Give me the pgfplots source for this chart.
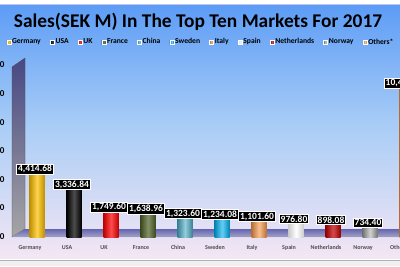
\documentclass[border=0pt]{standalone}
\usepackage{pgfplots}
\pgfplotsset{compat=1.18}
\usepackage{fontspec}
\setmainfont{Carlito}
\definecolor{cGer}{HTML}{FFC000}
\definecolor{cUSA}{HTML}{0A0A0A}
\definecolor{cUK}{HTML}{FF0000}
\definecolor{cFra}{HTML}{4F6228}
\definecolor{cChi}{HTML}{4BACC6}
\definecolor{cSwe}{HTML}{00B0F0}
\definecolor{cIta}{HTML}{F79646}
\definecolor{cSpa}{HTML}{FFFFFF}
\definecolor{cNet}{HTML}{C00000}
\definecolor{cNor}{HTML}{A6A6A6}
\definecolor{cOth}{HTML}{F79646}
\definecolor{bgTop}{HTML}{5C9CF6}
\definecolor{bgMid}{HTML}{A9CDF6}
\definecolor{bgBot}{HTML}{F4E6F4}
\begin{document}
\begin{tikzpicture}[x=1pt,y=1pt]
\useasboundingbox (0,0) rectangle (400,266);
\clip (0,0) rectangle (400,266);
\fill[white] (0,0) rectangle (400,266);
\shade[top color=bgTop, bottom color=bgMid] (0,140) rectangle (400,262);
\shade[top color=bgMid, bottom color=bgBot] (0,8) rectangle (400,140.5);
\draw[gray!40!blue!30, line width=0.8pt] (0,262) -- (400,262);
% back wall and floor
\shade[top color=blue!30!gray!80!black, bottom color=gray!70] (12,29) -- (12,199) -- (25,208) -- (25,37) -- cycle;
\draw[gray!60!black, line width=0.3pt] (12,29) -- (12,199) -- (25,208) -- (25,37) -- cycle;
\shade[top color=blue!35!gray!90, bottom color=blue!20!gray!60] (12,29) -- (25,37) -- (430,37) -- (430,29) -- cycle;
\node[font=\bfseries\fontsize{19.4}{22}\selectfont, text=black] at (198,244) {Sales(SEK M) In The Top Ten Markets For 2017};
\begin{axis}[
  at={(12pt,29pt)}, anchor=south west,
  scale only axis, width=418pt, height=171.6pt,
  xmin=-0.676, xmax=10.62, ymin=0, ymax=12000,
  ybar, bar width=15pt, bar shift=0pt,
  /pgf/number format/assume math mode=true,
  axis line style={draw=none},
  ytick={0,2000,4000,6000,8000,10000,12000},
  yticklabel style={overlay, font=\bfseries\fontsize{9}{10}\selectfont, anchor=east, xshift=-4pt},
  scaled y ticks=false,
  major tick length=0pt,
  xtick={0,1,2,3,4,5,6,7,8,9,10},
  xticklabels={Germany,USA,UK,France,China,Sweden,Italy,Spain,Netherlands,Norway,Others*},
  xticklabel style={overlay, font=\bfseries\fontsize{6}{7}\selectfont, text=black!70, xshift=-7pt, yshift=-5pt},
  clip=false,
  nodes near coords,
  nodes near coords style={font=\bfseries\fontsize{9.5}{10}\selectfont, text=white, fill=black, draw=white, line width=0.9pt, inner sep=1.3pt, anchor=south, yshift=-1pt, xshift=-2pt,
    /pgf/number format/.cd, fixed, fixed zerofill, precision=2, 1000 sep={,}, assume math mode=true},
  legend columns=11,
  legend style={overlay, at={(0.452,1.136)}, anchor=center, draw=none, fill=none, font=\bfseries\fontsize{7.6}{9}\selectfont,
    /tikz/every even column/.append style={column sep=7.2pt}, /tikz/every odd column/.append style={column sep=-1pt}},
  legend image code/.code={\fill[#1] (0pt,-2pt) rectangle (4pt,2pt); \draw[white, line width=0.5pt] (0pt,-2pt) rectangle (4pt,2pt);},
  legend cell align=left,
]
\addplot[left color=cGer!75!black, right color=cGer!75!black, middle color=cGer!70!white, draw=none] coordinates {(0,4414.68)};
\addplot[left color=black, right color=black, middle color=gray!60!black, draw=none] coordinates {(1,3336.84)};
\addplot[left color=cUK!75!black, right color=cUK!75!black, middle color=cUK!70!white, draw=none] coordinates {(2,1749.60)};
\addplot[left color=cFra!75!black, right color=cFra!75!black, middle color=cFra!70!white, draw=none] coordinates {(3,1638.96)};
\addplot[left color=cChi!75!black, right color=cChi!75!black, middle color=cChi!60!white, draw=none] coordinates {(4,1323.60)};
\addplot[left color=cSwe!75!black, right color=cSwe!75!black, middle color=cSwe!60!white, draw=none] coordinates {(5,1234.08)};
\addplot[left color=cIta!75!black, right color=cIta!75!black, middle color=cIta!60!white, draw=none] coordinates {(6,1101.60)};
\addplot[left color=gray!40, right color=gray!40, middle color=white, draw=none] coordinates {(7,976.80)};
\addplot[left color=cNet!75!black, right color=cNet!75!black, middle color=cNet!70!white, draw=none] coordinates {(8,898.08)};
\addplot[left color=cNor!70!black, right color=cNor!70!black, middle color=cNor!50!white, draw=none] coordinates {(9,734.40)};
\addplot[left color=cOth!75!black, right color=cOth!75!black, middle color=cOth!60!white, draw=none] coordinates {(10,10420.00)};
\legend{Germany,USA,UK,France,China,Sweden,Italy,Spain,Netherlands,Norway,Others*}
\end{axis}
\fill[gray!12] (0,0) rectangle (400,5);
\draw[gray!60, line width=1.2pt] (0,5.5) -- (400,5.5);
\fill[white] (0,262.5) rectangle (400,266);
\end{tikzpicture}
\end{document}
